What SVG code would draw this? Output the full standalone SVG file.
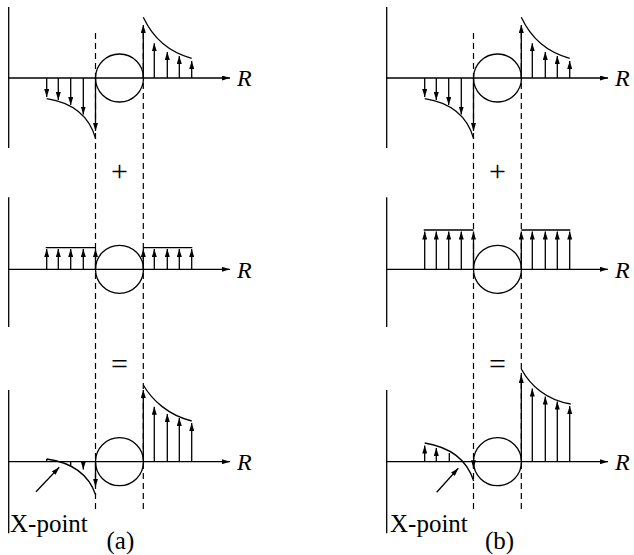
<svg xmlns="http://www.w3.org/2000/svg" width="634" height="555" viewBox="0 0 634 555">
<style>
.l{fill:none;stroke:#000;stroke-width:1.3}
.ar{fill:none;stroke:#000;stroke-width:1.3;marker-end:url(#ah)}
.d{fill:none;stroke:#000;stroke-width:1.2;stroke-dasharray:6 4}
</style>
<defs>
<marker id="ah" viewBox="0 0 8 5" refX="8" refY="2.5" markerWidth="8" markerHeight="5" orient="auto" markerUnits="userSpaceOnUse"><path d="M0,0L8,2.5L0,5z" fill="#000"/></marker>
<g id="topL">
<path class="l" d="M8.7,7V148"/>
<path class="ar" d="M8.7,78H230"/>
<circle class="l" cx="119.5" cy="78" r="24"/>
<path class="l" d="M46.7,98.7C68,102 88,112 95.7,138.7"/>
<path class="ar" d="M46.7,78V97"/>
<path class="ar" d="M58.3,78V100"/>
<path class="ar" d="M70.7,78V105"/>
<path class="ar" d="M83.3,78V114.5"/>
<path class="ar" d="M95.5,78V131"/>
<path class="l" d="M143.3,17.3C152,36 168,52 191.7,58.3"/>
<path class="ar" d="M143.3,78V25"/>
<path class="ar" d="M154.3,78V43.3"/>
<path class="ar" d="M167.3,78V52"/>
<path class="ar" d="M179.3,78V56"/>
<path class="ar" d="M191.7,78V61"/>
<text x="237" y="86" font-family="Liberation Serif, serif" font-style="italic" font-size="24">R</text>
</g>
</defs>
<g id="connectors">
<path class="d" d="M95.5,33V513M143.3,33V513M473.5,33V513M521.3,33V513"/>
</g>
<g id="panel-a-top"><use href="#topL"/></g>
<g id="panel-a-mid">
<path class="l" d="M8.7,197.3V327"/>
<path class="ar" d="M8.7,269.3H230"/>
<circle class="l" cx="119.5" cy="269.3" r="24"/>
<path class="l" d="M45.7,247.7H95.5M143.3,247.7H192.3"/>
<path class="ar" d="M46.7,269.3V249"/>
<path class="ar" d="M58.3,269.3V249"/>
<path class="ar" d="M70.7,269.3V249"/>
<path class="ar" d="M83.3,269.3V249"/>
<path class="ar" d="M95.5,269.3V249"/>
<path class="ar" d="M143.3,269.3V249"/>
<path class="ar" d="M154.3,269.3V249"/>
<path class="ar" d="M167.3,269.3V249"/>
<path class="ar" d="M179.3,269.3V249"/>
<path class="ar" d="M191.7,269.3V249"/>
<text x="237" y="277.5" font-family="Liberation Serif, serif" font-style="italic" font-size="24">R</text>
</g>
<g id="panel-a-bot">
<path class="l" d="M8.7,390V533.3"/>
<path class="ar" d="M8.7,461.7H230"/>
<circle class="l" cx="119.5" cy="461.7" r="24"/>
<path class="l" d="M143.3,385C152,400 168,415 191.7,421"/>
<path class="ar" d="M143.3,461.7V390"/>
<path class="ar" d="M154.3,461.7V406.7"/>
<path class="ar" d="M167.3,461.7V414"/>
<path class="ar" d="M179.3,461.7V418"/>
<path class="ar" d="M191.7,461.7V423"/>
<path class="l" d="M46.7,459C68,462 88,472 95.7,495M46.7,459V461.7M70.7,461.7V466.5"/>
<path class="ar" d="M83.3,461.7V469.5"/>
<path class="ar" d="M95.5,461.7V486.7"/>
<path class="ar" d="M36,491.7L59.3,467.3"/>
<text x="237" y="470" font-family="Liberation Serif, serif" font-style="italic" font-size="24">R</text>
<text x="10" y="532" font-size="25" font-family="Liberation Serif, serif">X-point</text>
<text x="106.5" y="549" font-size="25" font-family="Liberation Serif, serif">(a)</text>
</g>
<g id="panel-b-top"><use href="#topL" transform="translate(378,0)"/></g>
<g id="panel-b-mid">
<path class="l" d="M386.7,197.3V327"/>
<path class="ar" d="M386.7,269.3H608"/>
<circle class="l" cx="497.5" cy="269.3" r="24"/>
<path class="l" d="M423.7,230H473.5M521.3,230H570.3"/>
<path class="ar" d="M424.7,269.3V231.5"/>
<path class="ar" d="M436.3,269.3V231.5"/>
<path class="ar" d="M448.7,269.3V231.5"/>
<path class="ar" d="M461.3,269.3V231.5"/>
<path class="ar" d="M473.5,269.3V231.5"/>
<path class="ar" d="M521.3,269.3V231.5"/>
<path class="ar" d="M532.3,269.3V231.5"/>
<path class="ar" d="M545.3,269.3V231.5"/>
<path class="ar" d="M557.3,269.3V231.5"/>
<path class="ar" d="M569.7,269.3V231.5"/>
<text x="615" y="277.5" font-family="Liberation Serif, serif" font-style="italic" font-size="24">R</text>
</g>
<g id="panel-b-bot">
<path class="l" d="M386.7,390V533.3"/>
<path class="ar" d="M386.7,461.7H608"/>
<circle class="l" cx="497.5" cy="461.7" r="24"/>
<path class="l" d="M521.3,369C530,385 546,400 570.7,404"/>
<path class="ar" d="M521.3,461.7V375"/>
<path class="ar" d="M532.3,461.7V388.5"/>
<path class="ar" d="M545.3,461.7V396.5"/>
<path class="ar" d="M557.3,461.7V401.5"/>
<path class="ar" d="M569.7,461.7V406"/>
<path class="l" d="M424.7,443C446,446.5 466,456.5 473.7,481M449.3,461.7V453"/>
<path class="ar" d="M424.7,461.7V445.5"/>
<path class="ar" d="M436.3,461.7V448"/>
<path class="ar" d="M473.5,461.7V468.3"/>
<path class="ar" d="M436.7,492.3L458.3,468.3"/>
<text x="615" y="470" font-family="Liberation Serif, serif" font-style="italic" font-size="24">R</text>
<text x="390" y="532" font-size="25" font-family="Liberation Serif, serif">X-point</text>
<text x="485" y="549" font-size="25" font-family="Liberation Serif, serif">(b)</text>
</g>
<g id="operators">
<text x="119.5" y="181" font-size="30" text-anchor="middle" font-family="Liberation Serif, serif">+</text>
<text x="497.5" y="181" font-size="30" text-anchor="middle" font-family="Liberation Serif, serif">+</text>
<text x="119.5" y="374" font-size="30" text-anchor="middle" font-family="Liberation Serif, serif">=</text>
<text x="497.5" y="374" font-size="30" text-anchor="middle" font-family="Liberation Serif, serif">=</text>
</g>
</svg>
